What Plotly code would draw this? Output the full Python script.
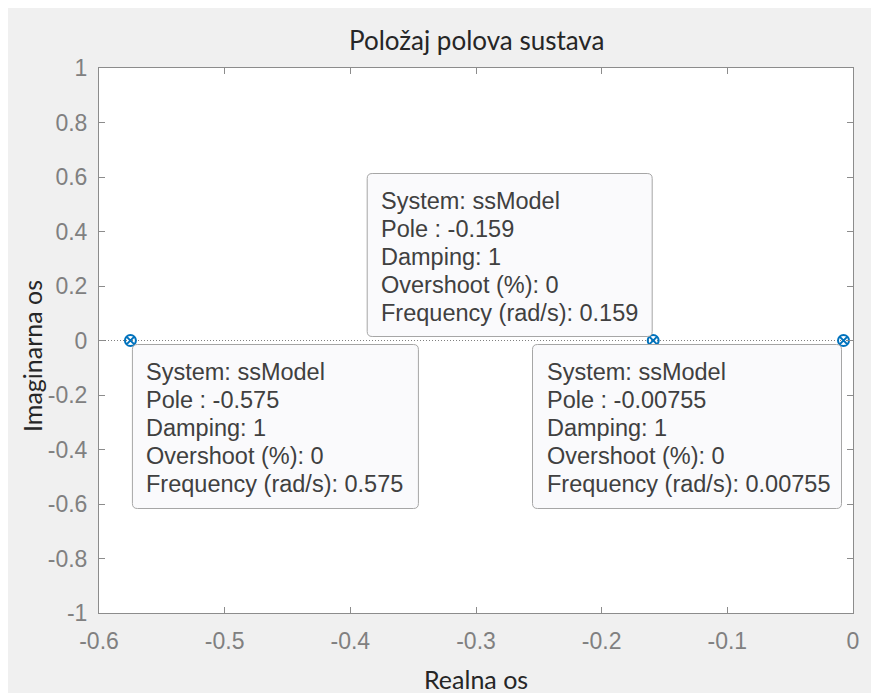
import plotly.graph_objects as go

# ---------------- data ----------------
pole_re = [-0.575, -0.159, -0.00755]
pole_im = [0.0, 0.0, 0.0]
tip_pole_text = ["-0.575", "-0.159", "-0.00755"]
tip_freq_text = ["0.575", "0.159", "0.00755"]
damping = ["1", "1", "1"]
overshoot = ["0", "0", "0"]
system_name = "ssModel"

x_tickvals = [-0.6, -0.5, -0.4, -0.3, -0.2, -0.1, 0]
x_ticktext = ["-0.6", "-0.5", "-0.4", "-0.3", "-0.2", "-0.1", "0"]
y_tickvals = [1, 0.8, 0.6, 0.4, 0.2, 0, -0.2, -0.4, -0.6, -0.8, -1]
y_ticktext = ["1", "0.8", "0.6", "0.4", "0.2", "0", "-0.2", "-0.4", "-0.6", "-0.8", "-1"]

title_text = "Položaj polova sustava"
x_title = "Realna os"
y_title = "Imaginarna os"

# ---------------- layout geometry (figure pixels) ----------------
W, H = 871, 685
ML, MR, MT, MB = 91, 26, 60, 80
PW, PH = W - ML - MR, H - MT - MB
XR = [-0.6, 0.0]
YR = [-1.0, 1.0]

def d2px(x, y):
    px = ML + (x - XR[0]) / (XR[1] - XR[0]) * PW
    py = MT + (YR[1] - y) / (YR[1] - YR[0]) * PH
    return px, py

def px2d(px, py):
    x = XR[0] + (px - ML) / PW * (XR[1] - XR[0])
    y = YR[1] - (py - MT) / PH * (YR[1] - YR[0])
    return x, y

def paper_x(px):
    return (px - ML) / PW

def paper_y(py):
    return (MT + PH - py) / PH

def rounded_rect_path(left, top, right, bottom, r=5):
    pts = [
        ("M", [(left + r, top)]),
        ("L", [(right - r, top)]),
        ("Q", [(right, top), (right, top + r)]),
        ("L", [(right, bottom - r)]),
        ("Q", [(right, bottom), (right - r, bottom)]),
        ("L", [(left + r, bottom)]),
        ("Q", [(left, bottom), (left, bottom - r)]),
        ("L", [(left, top + r)]),
        ("Q", [(left, top), (left + r, top)]),
    ]
    s = ""
    for cmd, plist in pts:
        s += cmd + " " + " ".join("%.6f,%.6f" % px2d(px, py) for px, py in plist) + " "
    return s + "Z"

# box placement: (horizontal anchor, dx, vertical anchor, dy, width, height)
box_specs = [
    ("left", 2, "top", 4, 286, 164),
    ("right", -1, "bottom", -4, 285, 163),
    ("right", -2, "top", 4, 309, 164),
]

fig = go.Figure()

# real axis dotted line
fig.add_trace(go.Scatter(
    x=XR, y=[0, 0], mode="lines",
    line=dict(color="#808080", width=1, dash="1px,2px"),
    hoverinfo="skip", showlegend=False,
))

fig.add_trace(go.Scatter(
    x=pole_re, y=pole_im, mode="markers",
    marker=dict(symbol="circle-x-open", size=11, color="#0072BD",
                line=dict(width=2, color="#0072BD")),
    showlegend=False,
))

shapes = []
annotations = []
tip_font = dict(family="Liberation Sans, Arial, sans-serif", size=23.5, color="#404040")
for i, (hx, dx, vy, dy, bw, bh) in enumerate(box_specs):
    ppx, ppy = d2px(pole_re[i], pole_im[i])
    left = ppx + dx if hx == "left" else ppx + dx - bw
    top = ppy + dy if vy == "top" else ppy + dy - bh
    right, bottom = left + bw, top + bh
    shapes.append(dict(
        type="path", xref="x", yref="y",
        path=rounded_rect_path(left, top, right, bottom, 5),
        fillcolor="#fafafc", line=dict(color="#a6a6a6", width=1), layer="above",
    ))
    lines = [
        "System: " + system_name,
        "Pole : " + tip_pole_text[i],
        "Damping: " + damping[i],
        "Overshoot (%): " + overshoot[i],
        "Frequency (rad/s): " + tip_freq_text[i],
    ]
    for j, t in enumerate(lines):
        ax, ay = px2d(left + 12, top + 27.5 + 28 * j)
        annotations.append(dict(
            x=ax, y=ay, xref="x", yref="y", text=t, showarrow=False,
            xanchor="left", yanchor="middle", font=tip_font,
        ))

label_font = dict(family="Lato, sans-serif", size=25, color="#262626")

# title and axis titles
annotations.append(dict(
    text=title_text, xref="paper", yref="paper", x=0.5, y=paper_y(32),
    showarrow=False, xanchor="center", yanchor="middle",
    font=dict(family="Lato, sans-serif", size=26, color="#262626"),
))
annotations.append(dict(
    text=x_title, xref="paper", yref="paper", x=0.5, y=paper_y(671),
    showarrow=False, xanchor="center", yanchor="middle", font=label_font,
))
annotations.append(dict(
    text=y_title, xref="paper", yref="paper", x=paper_x(24), y=paper_y(348),
    showarrow=False, xanchor="center", yanchor="middle", textangle=-90, font=label_font,
))

tick_font = dict(family="Liberation Sans, Arial, sans-serif", size=23, color="#808080")
axis_common = dict(
    showgrid=False, zeroline=False, showline=True, linecolor="#8c8c8c", linewidth=1,
    mirror="ticks", ticks="inside", ticklen=6, tickcolor="#8c8c8c", tickwidth=1,
    tickfont=tick_font,
)

fig.update_layout(
    width=W, height=H,
    margin=dict(l=ML, r=MR, t=MT, b=MB),
    paper_bgcolor="#f0f0f0", plot_bgcolor="white",
    xaxis=dict(range=XR, tickvals=x_tickvals, ticktext=x_ticktext,
               ticklabelstandoff=7, **axis_common),
    yaxis=dict(range=YR, tickvals=y_tickvals, ticktext=y_ticktext,
               ticklabelstandoff=6, **axis_common),
    shapes=shapes, annotations=annotations,
    showlegend=False,
)

fig.write_html("out.html")
